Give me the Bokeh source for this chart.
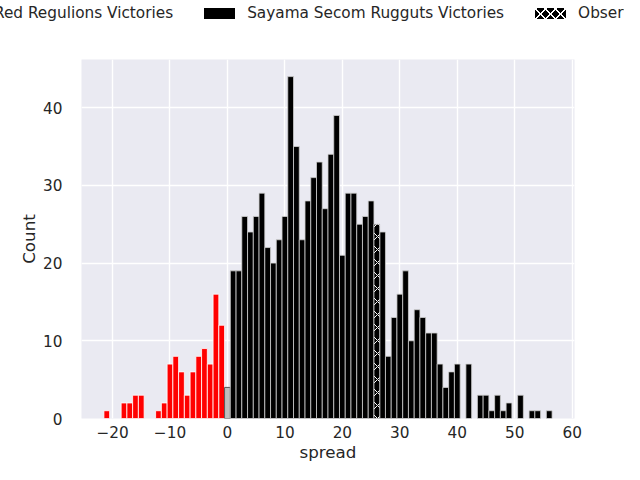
from bokeh.plotting import figure
from bokeh.layouts import column
from bokeh.models import Range1d, FixedTicker, ColumnDataSource, Div
from bokeh.embed import file_html
from bokeh.resources import INLINE

# ---- data ----
red_spread = [-21, -18, -17, -16, -15, -12, -11, -10, -9, -8, -7, -6, -5, -4, -3, -2, -1]
red_count = [1, 2, 2, 3, 3, 1, 2, 7, 8, 6, 3, 6, 8, 9, 7, 16, 12]

tie_spread = [0]
tie_count = [4]

black_spread = [1, 2, 3, 4, 5, 6, 7, 8, 9, 10, 11, 12, 13, 14, 15, 16, 17, 18, 19, 20,
                21, 22, 23, 24, 25, 27, 28, 29, 30, 31, 32, 33, 34, 35, 36, 37, 38, 39,
                40, 42, 44, 45, 46, 47, 48, 49, 51, 53, 54, 56]
black_count = [19, 19, 26, 24, 26, 29, 22, 20, 23, 26, 44, 35, 23, 28, 31, 33, 27, 34, 39, 21,
               29, 29, 25, 26, 28, 24, 8, 13, 16, 19, 10, 14, 13, 11, 11, 7, 4, 6,
               7, 7, 3, 3, 1, 3, 1, 2, 3, 1, 1, 1]

obs_spread = [26]
obs_count = [25]

x_ticks = [-20, -10, 0, 10, 20, 30, 40, 50, 60]
y_ticks = [0, 10, 20, 30, 40]
legend_labels = ["Red Regulions Victories", "Sayama Secom Rugguts Victories", "Observed Spread"]

TEXT = "#262626"
FONT = "DejaVu Sans"

# ---- main chart ----
p = figure(width=624, height=436, output_backend="svg", toolbar_location=None,
           x_range=Range1d(-25.4, 60.4), y_range=Range1d(0, 46.2),
           min_border_left=81, min_border_right=50, min_border_top=31, min_border_bottom=46)
p.background_fill_color = "#EAEAF2"
p.border_fill_color = "white"
p.outline_line_color = None

p.xaxis.ticker = FixedTicker(ticks=x_ticks)
p.yaxis.ticker = FixedTicker(ticks=y_ticks)
p.xgrid.ticker = FixedTicker(ticks=x_ticks)
p.ygrid.ticker = FixedTicker(ticks=y_ticks)
for g in (p.xgrid, p.ygrid):
    g.grid_line_color = "white"
    g.grid_line_width = 1.4

p.xaxis.major_label_overrides = {t: ("\u2212" + str(-t)) for t in x_ticks if t < 0}

for ax in (p.xaxis, p.yaxis):
    ax.axis_line_color = None
    ax.major_tick_line_color = None
    ax.minor_tick_line_color = None
    ax.major_tick_out = 0
    ax.major_tick_in = 0
    ax.major_label_text_font = FONT
    ax.major_label_text_font_size = "15.3px"
    ax.major_label_text_color = TEXT
    ax.axis_label_text_font = FONT
    ax.axis_label_text_font_size = "16.7px"
    ax.axis_label_text_font_style = "normal"
    ax.axis_label_text_color = TEXT

p.xaxis.axis_label = "spread"
p.yaxis.axis_label = "Count"
p.xaxis.major_label_standoff = 7
p.yaxis.major_label_standoff = 19
p.xaxis.axis_label_standoff = 1
p.yaxis.axis_label_standoff = 1

red_src = ColumnDataSource(dict(x=red_spread, top=red_count))
tie_src = ColumnDataSource(dict(x=tie_spread, top=tie_count))
black_src = ColumnDataSource(dict(x=black_spread, top=black_count))
obs_src = ColumnDataSource(dict(x=obs_spread, top=obs_count))

p.vbar(x="x", top="top", bottom=0, width=1, source=red_src,
       fill_color="red", line_color="white", line_width=0.8)
p.vbar(x="x", top="top", bottom=0, width=1, source=tie_src,
       fill_color="#bfbfbf", line_color="#555555", line_width=1)
p.vbar(x="x", top="top", bottom=0, width=1, source=black_src,
       fill_color="black", line_color="#cfcfcf", line_width=0.8)
p.vbar(x="x", top="top", bottom=0, width=1, source=obs_src,
       fill_color="black", line_color="#cfcfcf", line_width=0.8,
       hatch_pattern="diagonal_cross", hatch_color="white",
       hatch_scale=13, hatch_weight=1)

# ---- legend strip above the chart (wider than the page, as in the original) ----
patch_css = "display:inline-block;width:31px;height:11px;margin-right:12px;flex:none;"
hatch_bg = ("background:repeating-linear-gradient(45deg,#fff 0 1.2px,transparent 1.2px 7px),"
            "repeating-linear-gradient(-45deg,#fff 0 1.2px,transparent 1.2px 7px),#000;")
patch_styles = ["background:red;", "background:#000;", hatch_bg]
items_html = ""
for i, (lab, st) in enumerate(zip(legend_labels, patch_styles)):
    gap = "margin-left:31px;" if i > 0 else ""
    items_html += (f'<span style="display:flex;align-items:center;flex:none;{gap}">'
                   f'<span style="{patch_css}{st}"></span>'
                   f'<span style="white-space:nowrap">{lab}</span></span>')
legend_html = (f'<div style="position:relative;width:624px;height:28px;overflow:hidden;">'
               f'<div style="position:absolute;left:-49px;top:3px;height:20px;display:flex;'
               f'align-items:center;white-space:nowrap;font-family:\'{FONT}\';'
               f'font-size:15.3px;line-height:20px;color:{TEXT};">{items_html}</div></div>')
legend_div = Div(text=legend_html, width=624, height=28, margin=0)

layout = column(legend_div, p, spacing=0)
open("out.html", "w").write(file_html(layout, INLINE))
